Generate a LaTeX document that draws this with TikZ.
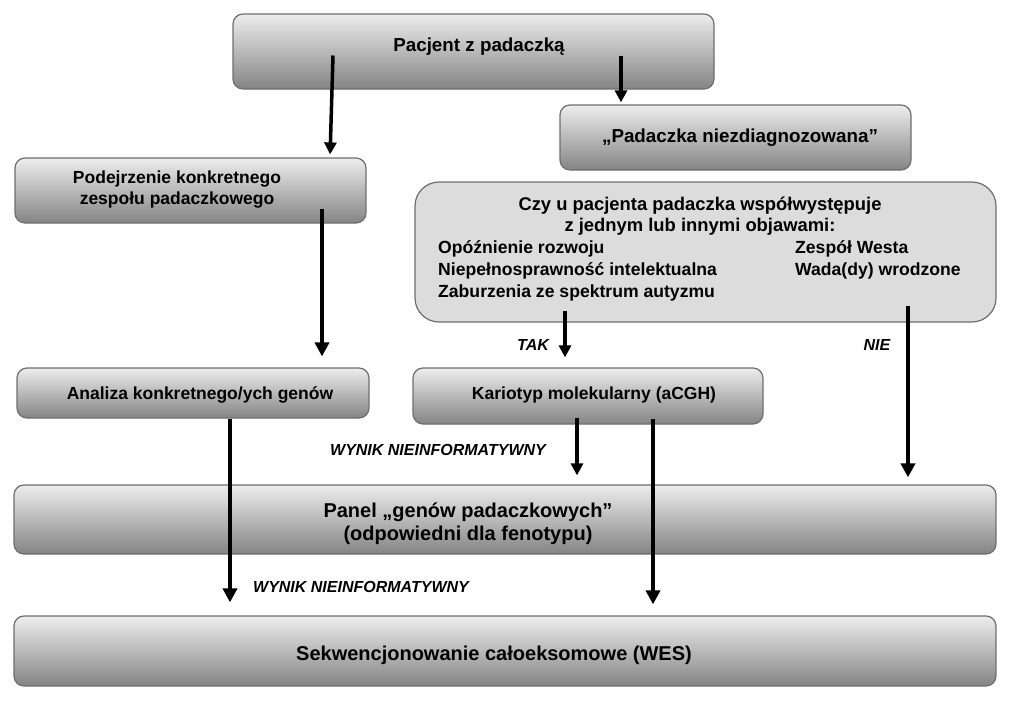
\documentclass[tikz,border=0pt]{standalone}
\usepackage{fontspec}
\setmainfont{Liberation Sans}
\usetikzlibrary{arrows.meta,calc}
\definecolor{boxtop}{HTML}{EDEDED}
\definecolor{boxmid}{HTML}{DADADA}
\definecolor{boxbot}{HTML}{848484}
\definecolor{boxline}{HTML}{6E6E6E}
\definecolor{flatfill}{HTML}{DCDCDC}
\begin{document}
\begin{tikzpicture}[x=1pt,y=-1pt,
  gbox/.style={draw=boxline, line width=1.2pt, rounded corners=10pt,
    top color=boxtop, middle color=boxmid, bottom color=boxbot,
    inner sep=0pt, minimum width=#1},
  fbox/.style={draw=boxline, line width=1.2pt, rounded corners=24pt, fill=flatfill, inner sep=0pt},
  txt/.style={font=\bfseries\fontsize{17.5}{21}\selectfont, align=center, inner sep=0pt},
  lab/.style={font=\bfseries\itshape\fontsize{16}{19}\selectfont, inner sep=0pt},
  arr/.style={line width=4pt, -{Triangle[width=14pt,length=14pt]}},
  arrs/.style={line width=3.5pt, -{Triangle[width=12pt,length=12pt]}}]
\useasboundingbox (0,0) rectangle (1023,723);
% boxes
\node[gbox=481pt, minimum height=75pt] (pac) at (473.5,51.5) {};
\node[gbox=351pt, minimum height=65pt] (pad) at (735.5,137.5) {};
\node[gbox=351pt, minimum height=65pt] (pod) at (190.5,190.5) {};
\node[fbox, minimum width=581pt, minimum height=140pt] (czy) at (705.5,252) {};
\node[gbox=352pt, minimum height=50pt] (ana) at (193,393) {};
\node[gbox=350pt, minimum height=56pt] (kar) at (588,396) {};
\node[gbox=982pt, minimum height=69pt] (pan) at (505,519.5) {};
\node[gbox=982pt, minimum height=70pt] (sek) at (505,651) {};
% texts
\node[txt, font=\bfseries\fontsize{18.8}{23}\selectfont] (tpac) at (479,47) {Pacjent z padaczką};
\node[txt, font=\bfseries\fontsize{18.8}{23}\selectfont] (tpad) at (740,138) {„Padaczka niezdiagnozowana”};
\node[txt] (tpod) at (177,189.5) {Podejrzenie konkretnego\\zespołu padaczkowego};
\node[txt, font=\bfseries\fontsize{18.4}{21}\selectfont] (tczy) at (700,216) {Czy u pacjenta padaczka współwystępuje\\z jednym lub innymi objawami:};
\node[txt, anchor=west, align=left, font=\bfseries\fontsize{17.6}{22}\selectfont] (tczl) at (438,271) {Opóźnienie rozwoju\\Niepełnosprawność intelektualna\\Zaburzenia ze spektrum autyzmu};
\node[txt, anchor=west, align=left, font=\bfseries\fontsize{17.6}{22}\selectfont] (tczr) at (795,260) {Zespół Westa\\Wada(dy) wrodzone};
\node[txt] (tana) at (200,395) {Analiza konkretnego/ych genów};
\node[txt] (tkar) at (594,395) {Kariotyp molekularny (aCGH)};
\node[txt, font=\bfseries\fontsize{20}{23}\selectfont] (tpan) at (468,524) {Panel „genów padaczkowych”\\(odpowiedni dla fenotypu)};
\node[txt, font=\bfseries\fontsize{20}{23}\selectfont] (tsek) at (494,655) {Sekwencjonowanie całoeksomowe (WES)};
% labels
\node[lab] (ltak) at (533,345) {TAK};
\node[lab] (lnie) at (877,345) {NIE};
\node[lab] (lw1) at (438,450) {WYNIK NIEINFORMATYWNY};
\node[lab] (lw2) at (361,587) {WYNIK NIEINFORMATYWNY};
% columns
\coordinate (c0) at (333,0);
\coordinate (c1) at (330,0);
\coordinate (c2) at (621,0);
\coordinate (c3) at (322,0);
\coordinate (c4) at (565,0);
\coordinate (c5) at (908,0);
\coordinate (c6) at (577,0);
\coordinate (c7) at (230,0);
\coordinate (c8) at (653,0);
% arrows
\draw[arrs, shorten >=3pt] ([yshift=-4pt]pac.center -| c0) -- (pod.north -| c1);
\draw[arrs, shorten >=2pt] ([yshift=-4pt]pac.center -| c2) -- (pad.north -| c2);
\draw[arr, shorten >=11pt] ([yshift=-18pt]pod.center -| c3) -- (ana.north -| c3);
\draw[arrs, shorten >=10pt] ([yshift=12pt]czy.south -| c4) -- (kar.north -| c4);
\draw[arr, shorten >=7pt] ([yshift=17pt]czy.south -| c5) -- (pan.north -| c5);
\draw[arrs, shorten >=9pt] ([yshift=7pt]kar.south -| c6) -- (pan.north -| c6);
\draw[arr, shorten >=13pt] (ana.south -| c7) -- (sek.north -| c7);
\draw[arr, shorten >=11pt] ([yshift=6pt]kar.south -| c8) -- (sek.north -| c8);
\end{tikzpicture}
\end{document}
